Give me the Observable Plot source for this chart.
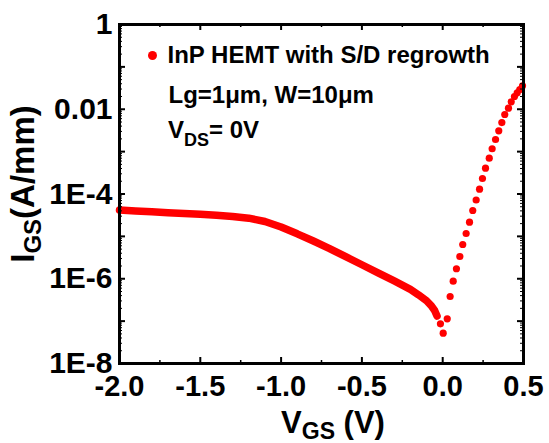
<!DOCTYPE html>
<html><head><meta charset="utf-8">
<script src="https://cdn.jsdelivr.net/npm/d3@7"></script>
<script src="https://cdn.jsdelivr.net/npm/@observablehq/plot@0.6"></script>
<style>
body{margin:0;background:#fff;}
#chart svg{font-family:"Liberation Sans",Arial,sans-serif;}
</style>
</head><body><div id="chart"></div>
<script>
// Reverse-bias branch (dense sweep, drawn as a thick trace)
const leftVgs = [-2.0,-1.9,-1.8,-1.7,-1.6,-1.5,-1.4,-1.3,-1.2,-1.1,-1.0,-0.9,-0.8,-0.7,-0.6,-0.5,-0.4,-0.3,-0.2,-0.15,-0.1,-0.07,-0.05,-0.035];
const leftIgs = [4.17e-5,3.98e-5,3.80e-5,3.63e-5,3.47e-5,3.31e-5,3.16e-5,2.95e-5,2.69e-5,2.24e-5,1.66e-5,1.15e-5,7.76e-6,5.13e-6,3.31e-6,2.14e-6,1.38e-6,8.91e-7,5.62e-7,4.17e-7,3.02e-7,2.29e-7,1.78e-7,1.32e-7];
// Forward branch (individual dots)
const rightVgs = [-0.014,0.003,0.028,0.046,0.065,0.085,0.106,0.124,0.145,0.166,0.186,0.207,0.228,0.246,0.265,0.288,0.306,0.327,0.347,0.366,0.384,0.407,0.424,0.444,0.461,0.477,0.494];
const rightIgs = [8.65e-8,5.19e-8,1.135e-7,3.81e-7,8.75e-7,1.72e-6,3.35e-6,6.43e-6,1.17e-5,2.16e-5,4.08e-5,7.21e-5,1.30e-4,2.32e-4,4.06e-4,7.0e-4,1.17e-3,1.93e-3,3.10e-3,4.86e-3,7.52e-3,1.06e-2,1.50e-2,2.0e-2,2.44e-2,2.92e-2,3.57e-2];

const xTickValues = [-2,-1.5,-1,-0.5,0,0.5];
const xTickLabels = ["-2.0","-1.5","-1.0","-0.5","0.0","0.5"];
const xMinorTicks = [-1.75,-1.25,-0.75,-0.25,0.25];
const yTickValues = [1,1e-2,1e-4,1e-6,1e-8];
const yTickLabels = ["1","0.01","1E-4","1E-6","1E-8"];
const yDecadeTicks = [1,1e-1,1e-2,1e-3,1e-4,1e-5,1e-6,1e-7,1e-8];
const yMinorTicks = [];
for (let e = -8; e < 0; e++) for (let m = 2; m <= 9; m++) yMinorTicks.push(m * Math.pow(10, e));

const legendLabel = "InP HEMT with S/D regrowth";
const noteLine1 = "Lg=1\u03bcm, W=10\u03bcm";

const left = leftVgs.map((v, i) => ({v, ig: leftIgs[i]}));
const right = rightVgs.map((v, i) => ({v, ig: rightIgs[i]}));

const W = 549, H = 443, mL = 119, mR = 26, mT = 24, mB = 80;
const fw = W - mL - mR, fh = H - mT - mB;
const red = "#ff0000";

const plot = Plot.plot({
  width: W, height: H,
  marginLeft: mL, marginRight: mR, marginTop: mT, marginBottom: mB,
  style: {fontFamily: "Liberation Sans, Arial, sans-serif", background: "white", overflow: "visible"},
  x: {domain: [-2, 0.5]},
  y: {type: "log", domain: [1e-8, 1]},
  marks: [
    Plot.line(left, {x: "v", y: "ig", stroke: red, strokeWidth: 7.5, strokeLinecap: "round", strokeLinejoin: "round"}),
    Plot.dot(right, {x: "v", y: "ig", r: 3.6, fill: red, stroke: "none"}),
    // inward ticks
    Plot.tickX(xTickValues, {x: d => d, insetTop: fh - 6, stroke: "black", strokeWidth: 2}),
    Plot.tickX(xTickValues, {x: d => d, insetBottom: fh - 6, stroke: "black", strokeWidth: 2}),
    Plot.tickX(xMinorTicks, {x: d => d, insetTop: fh - 3, stroke: "black", strokeWidth: 1.5}),
    Plot.tickX(xMinorTicks, {x: d => d, insetBottom: fh - 3, stroke: "black", strokeWidth: 1.5}),
    Plot.tickY(yDecadeTicks, {y: d => d, insetRight: fw - 6, stroke: "black", strokeWidth: 2}),
    Plot.tickY(yDecadeTicks, {y: d => d, insetLeft: fw - 6, stroke: "black", strokeWidth: 2}),
    Plot.tickY(yMinorTicks, {y: d => d, insetRight: fw - 3, stroke: "black", strokeWidth: 1}),
    Plot.tickY(yMinorTicks, {y: d => d, insetLeft: fw - 3, stroke: "black", strokeWidth: 1}),
    Plot.frame({stroke: "black", strokeWidth: 3}),
    Plot.axisX({ticks: xTickValues, tickFormat: d => xTickLabels[xTickValues.indexOf(d)], tickSize: 0, tickPadding: 12, fontSize: 29, fontWeight: "bold", fill: "black", label: null}),
    Plot.axisY({ticks: yTickValues, tickFormat: d => yTickLabels[yTickValues.indexOf(d)], tickSize: 0, tickPadding: 7, fontSize: 30, fontWeight: "bold", fill: "black", label: null}),
    // legend
    Plot.dot([legendLabel], {frameAnchor: "top-left", dx: 33, dy: 31, r: 4.5, fill: red, stroke: "none"}),
    Plot.text([legendLabel], {frameAnchor: "top-left", dx: 48, dy: 38, text: d => d, textAnchor: "start", lineAnchor: "bottom", fontSize: 24, fontWeight: "bold", fill: "black"}),
    Plot.text([noteLine1], {frameAnchor: "top-left", dx: 49, dy: 78, text: d => d, textAnchor: "start", lineAnchor: "bottom", fontSize: 24, fontWeight: "bold", fill: "black"})
  ]
});

const svg = d3.select(plot);
// V_DS = 0V note with subscript
const t3 = svg.append("text").attr("x", mL + 49).attr("y", mT + 114).attr("text-anchor", "start")
  .attr("font-size", 24).attr("font-weight", "bold").attr("fill", "black");
t3.append("tspan").text("V");
t3.append("tspan").attr("font-size", 18).attr("dy", 8).text("DS");
t3.append("tspan").attr("dy", -8).text("= 0V");

// x title
const tx = svg.append("text").attr("x", 333).attr("y", 433).attr("text-anchor", "middle")
  .attr("font-size", 31).attr("font-weight", "bold").attr("fill", "black");
tx.append("tspan").text("V");
tx.append("tspan").attr("font-size", 23).attr("dy", 6).text("GS");
tx.append("tspan").attr("dy", -6).text(" (V)");

// y title
const ty = svg.append("text").attr("transform", "translate(34,184) rotate(-90)").attr("text-anchor", "middle")
  .attr("font-size", 33).attr("font-weight", "bold").attr("fill", "black");
ty.append("tspan").text("I");
ty.append("tspan").attr("font-size", 24).attr("dy", 7).text("GS");
ty.append("tspan").attr("dy", -7).text("(A/mm)");

document.getElementById("chart").appendChild(plot);
</script>
</body></html>
